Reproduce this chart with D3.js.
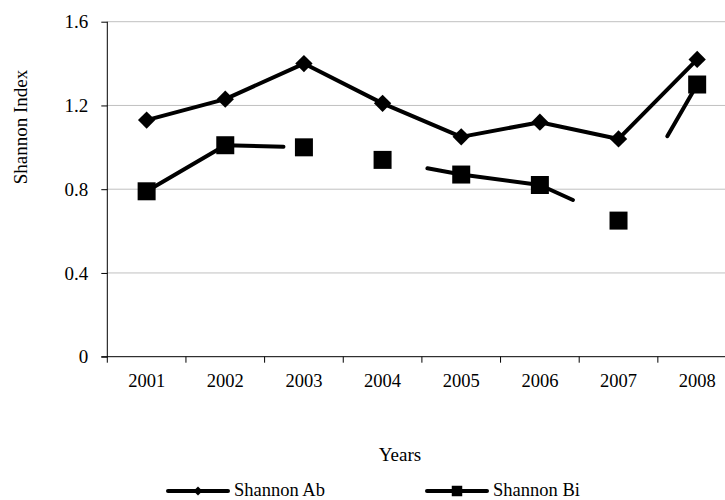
<!DOCTYPE html>
<html><head><meta charset="utf-8">
<script src="https://cdn.jsdelivr.net/npm/d3@7"></script>
<style>body{margin:0;background:#fff}svg{display:block}text{font-family:"Liberation Serif","Times New Roman",serif;fill:#000}</style>
</head><body>
<svg id="c" width="725" height="500"></svg>
<script>
const years = ["2001","2002","2003","2004","2005","2006","2007","2008"];
const shannonAb = [1.13,1.23,1.40,1.21,1.05,1.12,1.04,1.42];
const shannonBi = [0.79,1.01,1.00,0.94,0.87,0.82,0.65,1.30];
// visible stretches of the Shannon Bi line, in category-index units
const biVisible = [[0,1.74],[3.57,5.42],[6.62,7]];
const yTicks = [0,0.4,0.8,1.2,1.6];
const seriesNames = ["Shannon Ab","Shannon Bi"];

const svg = d3.select("#c");
const pLeft = 107.3, pTop = 21.7, pBottom = 356.7, band = 78.65;
const x = d3.scaleBand().domain(years).range([pLeft, pLeft + band*years.length]).paddingInner(0).paddingOuter(0);
const y = d3.scaleLinear().domain([0,1.6]).range([pBottom, pTop]);
const cx = i => x(years[i]) + x.bandwidth()/2;

// gridlines
svg.append("g").selectAll("line").data(yTicks.filter(d=>d>0)).join("line")
  .attr("x1", pLeft).attr("x2", 725).attr("y1", d=>y(d)).attr("y2", d=>y(d))
  .attr("stroke", "#c0c0c0").attr("stroke-width", 1);

// y axis
const ya = svg.append("g").attr("transform", `translate(${pLeft},0)`)
  .call(d3.axisLeft(y).tickValues(yTicks).tickFormat(d=>d===0?"0":d3.format(".1f")(d)).tickSize(6).tickPadding(13));
ya.select(".domain").attr("stroke","#000").attr("d", `M0,${pTop}V${pBottom}`);
ya.selectAll("text").style("font-size","19px").style("font-family","Liberation Serif");

// x axis
const xa = svg.append("g").attr("transform", `translate(0,${pBottom})`)
  .call(d3.axisBottom(x).tickSize(0).tickPadding(17));
xa.select(".domain").attr("stroke","#000").attr("d", `M${pLeft-6},0H${pLeft+band*years.length}`);
xa.selectAll("text").style("font-size","18.5px").style("font-family","Liberation Serif");
xa.selectAll("line.bt").data(d3.range(years.length+1)).join("line").attr("class","bt")
  .attr("x1", i=>pLeft+i*x.bandwidth()).attr("x2", i=>pLeft+i*x.bandwidth())
  .attr("y1",0).attr("y2",6).attr("stroke","#000");

// axis titles
svg.append("text").attr("transform","translate(27,127) rotate(-90)").attr("text-anchor","middle")
  .style("font-size","19px").text("Shannon Index");
svg.append("text").attr("x",400).attr("y",461).attr("text-anchor","middle")
  .style("font-size","19px").text("Years");

// Shannon Ab line
const line = d3.line().x(d=>d[0]).y(d=>d[1]);
svg.append("path").attr("d", line(shannonAb.map((v,i)=>[cx(i), y(v)])))
  .attr("fill","none").attr("stroke","#000").attr("stroke-width",4).attr("stroke-linejoin","round").attr("stroke-linecap","round");

// Shannon Bi visible stretches
function ptAt(t){ const i=Math.min(Math.floor(t), years.length-2), f=t-i;
  const px = cx(i)+(cx(i+1)-cx(i))*f, v = shannonBi[i]+(shannonBi[i+1]-shannonBi[i])*f; return [px, y(v)]; }
biVisible.forEach(([a,b])=>{
  const pts=[ptAt(a)]; for(let k=Math.ceil(a); k<=Math.floor(b); k++){ if(k>a && k<b) pts.push([cx(k), y(shannonBi[k])]); }
  pts.push(ptAt(b));
  svg.append("path").attr("d", line(pts)).attr("fill","none").attr("stroke","#000").attr("stroke-width",4)
    .attr("stroke-linejoin","round").attr("stroke-linecap","round");
});

// markers
const diamond = d3.symbol().type(d3.symbolSquare).size(150);
svg.append("g").selectAll("path").data(shannonAb).join("path").attr("d", diamond)
  .attr("transform",(d,i)=>`translate(${cx(i)},${y(d)}) rotate(45)`).attr("fill","#000");
const sq = d3.symbol().type(d3.symbolSquare).size(324);
svg.append("g").selectAll("path").data(shannonBi).join("path").attr("d", sq)
  .attr("transform",(d,i)=>`translate(${cx(i)},${y(d)})`).attr("fill","#000");

// legend
const lg = [{x:168, sym:d3.symbol().type(d3.symbolSquare).size(40), rot:45},{x:427, sym:d3.symbol().type(d3.symbolSquare).size(110), rot:0}];
lg.forEach((g,k)=>{
  const G = svg.append("g").attr("transform",`translate(${g.x},491)`);
  G.append("line").attr("x1",0).attr("x2",60).attr("stroke","#000").attr("stroke-width",4).attr("stroke-linecap","round");
  G.append("path").attr("d",g.sym).attr("transform",`translate(30,0) rotate(${g.rot})`).attr("fill","#000");
  G.append("text").attr("x",66).attr("y",5).style("font-size","18.5px").text(seriesNames[k]);
});
</script>
</body></html>
